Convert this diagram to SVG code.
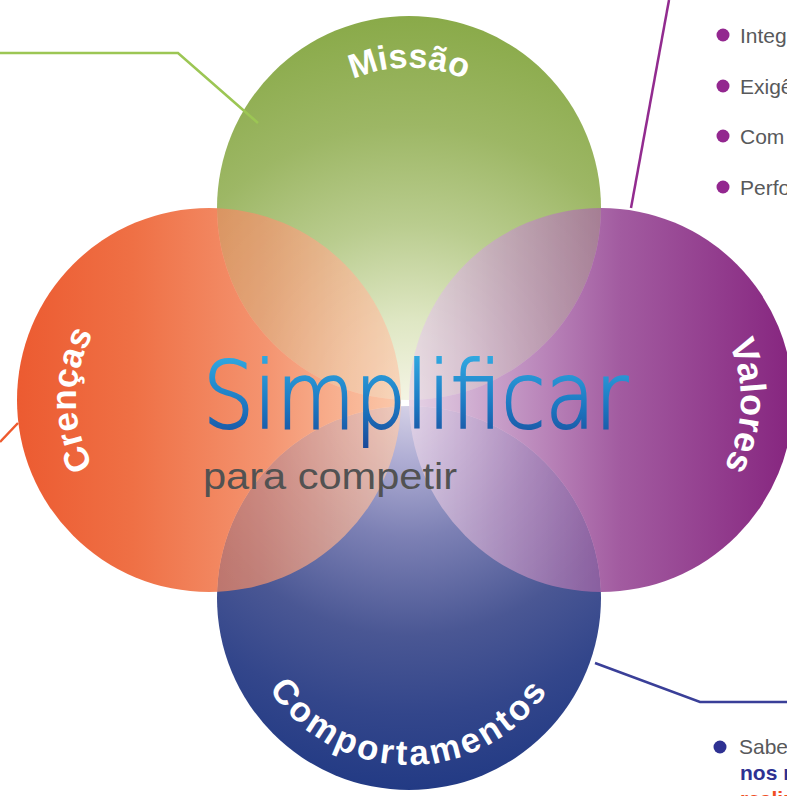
<svg xmlns="http://www.w3.org/2000/svg" width="787" height="796" viewBox="0 0 787 796">
<style>
.lbl{font-family:"Liberation Sans",Arial,sans-serif;font-weight:bold;fill:#ffffff;}
.li{font-family:"Liberation Sans",Arial,sans-serif;font-size:21px;fill:#58595b;}
.lib{font-family:"Liberation Sans",Arial,sans-serif;font-size:21px;font-weight:bold;}
.conn{fill:none;stroke-width:2.5;stroke-linejoin:miter;}
</style>
<defs>
<radialGradient id="gGreen" gradientUnits="userSpaceOnUse" cx="409" cy="400" r="392">
<stop offset="0" stop-color="#f4f4e4"/>
<stop offset="0.2" stop-color="#dfe7c4"/>
<stop offset="0.45" stop-color="#b9cc8e"/>
<stop offset="0.7" stop-color="#9db765"/>
<stop offset="1" stop-color="#88a947"/>
</radialGradient>
<radialGradient id="gBlue" gradientUnits="userSpaceOnUse" cx="409" cy="400" r="392">
<stop offset="0" stop-color="#d8d4e8"/>
<stop offset="0.15" stop-color="#b0aed4"/>
<stop offset="0.35" stop-color="#7c80b4"/>
<stop offset="0.6" stop-color="#4a5794"/>
<stop offset="0.8" stop-color="#33468b"/>
<stop offset="1" stop-color="#223a84"/>
</radialGradient>
<linearGradient id="gOrange" gradientUnits="userSpaceOnUse" x1="18" y1="0" x2="401" y2="0">
<stop offset="0" stop-color="#ec5b31"/>
<stop offset="0.3" stop-color="#ef7045"/>
<stop offset="0.65" stop-color="#f49470"/>
<stop offset="1" stop-color="#fbc9ab"/>
</linearGradient>
<linearGradient id="gPurple" gradientUnits="userSpaceOnUse" x1="409" y1="0" x2="793" y2="0">
<stop offset="0" stop-color="#e6d4e6"/>
<stop offset="0.25" stop-color="#c59ac6"/>
<stop offset="0.55" stop-color="#a25ba0"/>
<stop offset="1" stop-color="#86257f"/>
</linearGradient>
<linearGradient id="gSimp" gradientUnits="userSpaceOnUse" x1="0" y1="350" x2="0" y2="450">
<stop offset="0" stop-color="#33aee4"/>
<stop offset="0.55" stop-color="#1c78c2"/>
<stop offset="1" stop-color="#1a4696"/>
</linearGradient>
<mask id="lens" maskUnits="userSpaceOnUse" x="0" y="0" width="787" height="796">
<rect x="0" y="0" width="787" height="796" fill="#ffffff"/>
<circle cx="409" cy="208" r="192" fill="#b3b3b3"/>
<circle cx="409" cy="598" r="192" fill="#b3b3b3"/>
</mask>
<path id="arcM" d="M287.8,137.5 A140,140 0 0 1 530.2,137.5"/>
<path id="arcC" d="M142.5,515.2 A133,133 0 0 1 142.5,284.8"/>
<path id="arcV" d="M671,278.8 A140,140 0 0 1 671,521.2"/>
<path id="arcB" d="M247.7,641.2 A167,167 0 0 0 570.3,641.2"/>
</defs>

<g id="node-missao">
<circle cx="409" cy="208" r="192" fill="url(#gGreen)"/>
</g>
<g id="node-comportamentos">
<circle cx="409" cy="598" r="192" fill="url(#gBlue)"/>
</g>
<g id="node-crencas">
<circle cx="209" cy="400" r="192" fill="url(#gOrange)" mask="url(#lens)"/>
</g>
<g id="node-valores">
<circle cx="601" cy="400" r="192" fill="url(#gPurple)" mask="url(#lens)"/>
</g>

<g id="labels">
<text class="lbl" font-size="34"><textPath href="#arcM" startOffset="50%" text-anchor="middle">Missão</textPath></text>
<text class="lbl" font-size="35"><textPath href="#arcC" startOffset="50%" text-anchor="middle">Crenças</textPath></text>
<text class="lbl" font-size="36"><textPath href="#arcV" startOffset="52%" text-anchor="middle">Valores</textPath></text>
<text class="lbl" font-size="35" letter-spacing="3"><textPath href="#arcB" startOffset="50%" text-anchor="middle">Comportamentos</textPath></text>
</g>

<g id="center-text">
<text x="203" y="428" font-family="DejaVu Sans, sans-serif" font-weight="200" font-size="92" fill="url(#gSimp)" stroke="url(#gSimp)" stroke-width="2" textLength="425" lengthAdjust="spacingAndGlyphs">Simplificar</text>
<text x="203" y="489" font-family="Liberation Sans, Arial, sans-serif" font-size="36" fill="#525252" textLength="254" lengthAdjust="spacingAndGlyphs">para competir</text>
</g>

<g id="connectors">
<polyline class="conn" stroke="#9cc654" points="0,53 178,53 258,123"/>
<polyline class="conn" stroke="#922b8f" stroke-width="2.2" points="669,0 631,208"/>
<polyline class="conn" stroke="#ee5a2e" stroke-width="2" points="0,442 18,423"/>
<polyline class="conn" stroke="#3a3f98" points="595,663 700,702 787,702"/>
</g>

<g id="list-valores">
<circle cx="723" cy="35" r="6.5" fill="#93278f"/>
<text class="li" x="740" y="43">Integ</text>
<circle cx="723" cy="86" r="6.5" fill="#93278f"/>
<text class="li" x="740" y="94">Exigê</text>
<circle cx="723" cy="136" r="6.5" fill="#93278f"/>
<text class="li" x="740" y="144">Com</text>
<circle cx="723" cy="187" r="6.5" fill="#93278f"/>
<text class="li" x="740" y="195">Perfo</text>
</g>

<g id="list-comportamentos">
<circle cx="720" cy="747" r="6.5" fill="#2e3192"/>
<text class="li" x="739" y="754">Sabe</text>
<text class="lib" x="740" y="780" fill="#2e3192">nos r</text>
<text class="lib" x="740" y="806" fill="#f04e23">realiz</text>
</g>
</svg>
